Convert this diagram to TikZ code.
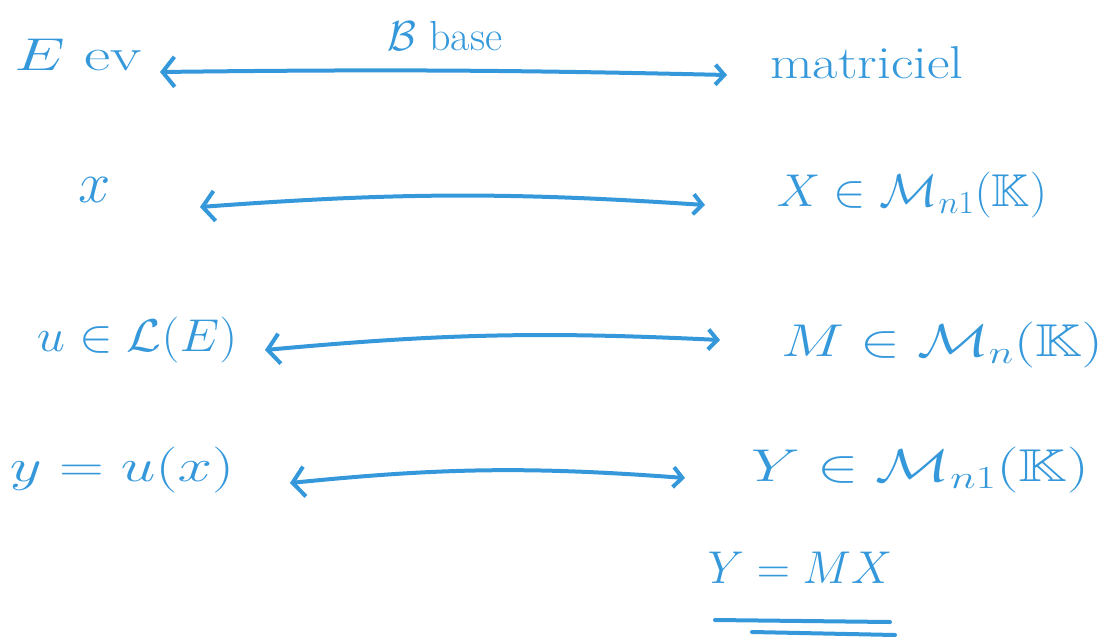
\documentclass[tikz,border=0pt]{standalone}
\usepackage{fix-cm}
\usepackage{amsmath,amssymb}
\usetikzlibrary{arrows.meta}
\definecolor{ink}{RGB}{52,152,219}
\newcommand{\wide}[2]{\scalebox{#1}[1]{#2}}
\tikzset{
  lbl/.style={text=ink, font=\fontsize{46}{52}\selectfont, inner sep=0pt},
  small/.style={text=ink, font=\fontsize{42}{48}\selectfont, inner sep=0pt},
  link/.style={draw=ink, line width=4pt, line cap=round,
    {Straight Barb[length=12pt,width=30pt,line width=4pt]}-{Straight Barb[length=9pt,width=20pt,line width=4pt]}},
  uline/.style={draw=ink, line width=4pt, line cap=round}
}
\begin{document}
\begin{tikzpicture}[x=1pt,y=-1pt]
\useasboundingbox (0,0) rectangle (1119,640);
% row 1
\node[lbl] (E) at (78,55) {\wide{1.4}{$E$ ev}};
\node[small] (B) at (445,36) {$\mathcal{B}$ base};
\node[lbl] (mat) at (867,63) {\wide{1.2}{matriciel}};
\coordinate (l1) at (160,72);
\coordinate (r1) at (727,75);
\draw[link] (l1) to[bend left=1] (r1);
% row 2
\node[lbl, font=\fontsize{58}{60}\selectfont] (x) at (95,190) {$x$};
\node[lbl] (X) at (912,195) {\wide{1.06}{$X\in\mathcal{M}_{n1}(\mathbb{K})$}};
\coordinate (l2) at (200,207);
\coordinate (r2) at (705,205);
\draw[link] (l2) to[bend left=4] (r2);
% row 3
\node[lbl] (u) at (137,340) {\wide{1.1}{$u\in\mathcal{L}(E)$}};
\node[lbl] (M) at (942,345) {\wide{1.3}{$M\in\mathcal{M}_{n}(\mathbb{K})$}};
\coordinate (l3) at (265,350);
\coordinate (r3) at (720,340);
\draw[link] (l3) to[bend left=4] (r3);
% row 4
\node[lbl] (y) at (122,470) {\wide{1.35}{$y=u(x)$}};
\node[lbl] (Y) at (920,470) {\wide{1.35}{$Y\in\mathcal{M}_{n1}(\mathbb{K})$}};
\coordinate (l4) at (290,483);
\coordinate (r4) at (685,478);
\draw[link] (l4) to[bend left=5] (r4);
% result
\node[lbl] (res) at (800,568) {$Y=MX$};
\coordinate (u1a) at (715,620);
\coordinate (u1b) at (890,622);
\coordinate (u2a) at (752,632);
\coordinate (u2b) at (895,635);
\draw[uline] (u1a) -- (u1b);
\draw[uline] (u2a) -- (u2b);
\end{tikzpicture}
\end{document}
